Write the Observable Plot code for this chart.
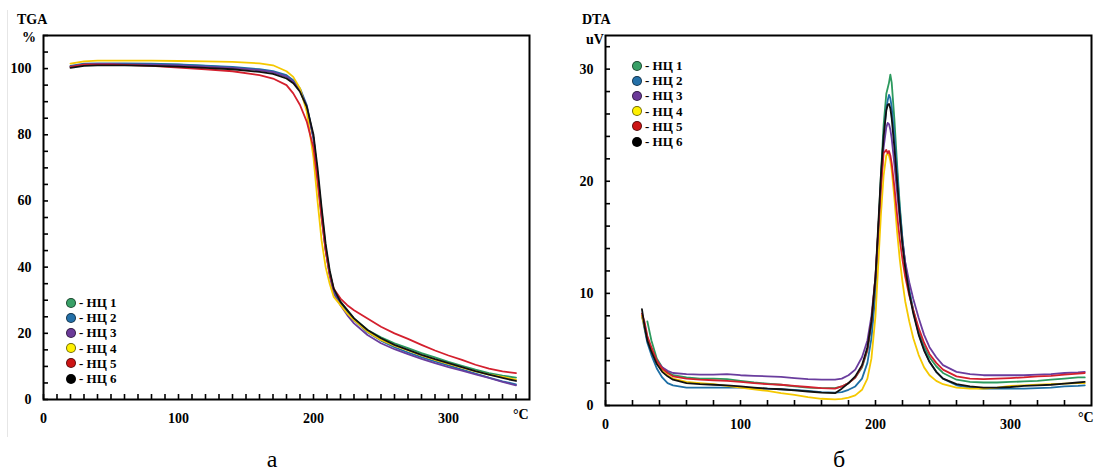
<!DOCTYPE html>
<html><head><meta charset="utf-8">
<script src="https://cdn.jsdelivr.net/npm/d3@7"></script>
<script src="https://cdn.jsdelivr.net/npm/@observablehq/plot@0.6"></script>
<style>
body{margin:0;background:#fff;}
#root{position:relative;width:1095px;height:475px;overflow:hidden;font-family:'Liberation Serif','Times New Roman',serif;color:#000;background:#fff;}
.abs{position:absolute;white-space:nowrap;}
.b{font-weight:bold;}
.leg{position:absolute;font-weight:bold;font-size:13px;line-height:15.2px;}
.leg .row{display:flex;align-items:center;height:15.2px;}
.leg .dot{width:8px;height:8px;border-radius:50%;border:1px solid rgba(0,0,0,0.55);margin-right:3px;box-sizing:content-box;}
</style></head><body><div id="root"></div>
<script>
// ---------- data ----------
const names = ["НЦ 1","НЦ 2","НЦ 3","НЦ 4","НЦ 5","НЦ 6"];

// TGA (mass, %) vs temperature (°C)
const tgaT = [20,30,40,50,60,80,100,120,140,160,170,180,185,190,195,200,203,206,209,212,215,220,225,230,240,250,260,270,280,290,300,310,320,330,340,350];
const tgaNC1 = [100.5,101.2,101.3,101.3,101.3,101.3,101.2,100.8,100.3,99.6,99.0,97.5,96.0,93.5,88.0,79.0,68.0,57.0,46.0,38.5,33.0,29.5,27.0,24.5,21.0,18.8,17.0,15.5,14.0,12.7,11.4,10.2,9.0,8.0,7.2,6.6];
const tgaNC2 = [100.8,101.5,101.6,101.6,101.6,101.5,101.3,100.9,100.5,99.8,99.2,98.0,96.5,94.0,89.0,79.0,67.0,55.0,45.0,37.5,32.5,29.0,26.5,24.0,20.3,17.8,15.8,14.2,12.8,11.5,10.3,9.0,7.8,6.6,5.5,4.6];
const tgaNC3 = [100.6,101.3,101.4,101.4,101.3,101.2,101.0,100.6,100.2,99.5,98.9,97.6,96.0,93.5,88.5,79.0,68.0,56.0,45.5,37.5,32.0,28.5,25.5,23.0,19.5,17.0,15.2,13.7,12.3,11.0,9.8,8.7,7.6,6.5,5.3,4.3];
const tgaNC4 = [101.5,102.2,102.4,102.4,102.4,102.4,102.3,102.2,102.0,101.6,101.0,99.2,97.5,94.0,87.0,73.0,60.0,48.0,40.0,35.0,31.0,28.5,26.0,24.0,20.5,18.0,16.3,14.8,13.3,12.0,10.8,9.6,8.5,7.5,6.8,6.0];
const tgaNC5 = [100.5,101.2,101.2,101.2,101.1,100.8,100.3,99.8,99.2,98.0,97.0,95.0,92.5,89.0,84.0,76.0,66.0,55.0,45.0,38.0,33.5,30.5,28.5,27.0,24.5,22.0,20.0,18.3,16.5,14.8,13.3,12.0,10.5,9.3,8.5,8.0];
const tgaNC6 = [100.2,100.8,101.0,101.0,101.0,100.8,100.6,100.2,99.8,99.0,98.4,97.0,95.6,93.0,88.5,80.0,70.0,58.0,47.0,39.0,33.5,29.5,27.0,24.5,21.0,18.5,16.5,15.0,13.5,12.2,11.0,9.8,8.6,7.5,6.5,5.6];

// DTA (uV) vs temperature (°C)
const dtaT = [27,29,31,34,38,42,46,50,60,70,80,90,100,110,120,130,140,150,160,170,175,180,185,190,194,197,200,202,204,206,208,209,210,211,212,214,216,218,220,222,225,228,232,236,240,245,250,260,270,280,290,300,310,320,330,340,350,355];
const dtaNC1 = [null,null,7.5,5.8,4.2,3.4,3.0,2.7,2.5,2.4,2.4,2.35,2.2,2.05,1.95,1.85,1.7,1.6,1.55,1.55,1.7,2.0,2.5,3.4,4.9,7.2,11.0,15.5,20.5,25.0,27.8,28.3,28.8,29.5,28.8,25.5,21.5,17.8,14.8,12.5,10.2,8.5,6.7,5.3,4.3,3.5,2.9,2.3,2.1,2.05,2.05,2.1,2.15,2.2,2.3,2.4,2.5,2.5];
const dtaNC2 = [8.0,6.8,5.6,4.5,3.3,2.5,2.0,1.8,1.6,1.6,1.6,1.6,1.6,1.55,1.5,1.45,1.4,1.3,1.2,1.15,1.2,1.4,1.7,2.4,3.8,6.0,10.0,15.0,20.0,24.0,26.5,27.2,27.7,27.4,26.6,24.0,20.8,17.5,14.8,12.7,10.3,8.4,6.4,5.0,3.9,3.0,2.4,1.8,1.6,1.5,1.5,1.5,1.5,1.55,1.6,1.7,1.75,1.8];
const dtaNC3 = [8.0,7.2,6.0,5.0,4.0,3.4,3.1,2.9,2.8,2.75,2.75,2.8,2.7,2.65,2.6,2.55,2.45,2.35,2.3,2.3,2.4,2.7,3.2,4.3,5.8,8.0,11.5,15.5,19.5,23.0,24.8,25.2,25.1,24.6,23.8,21.5,19.0,16.5,14.5,12.8,11.0,9.5,7.8,6.3,5.2,4.3,3.6,3.0,2.8,2.7,2.7,2.7,2.7,2.75,2.8,2.9,2.95,3.0];
const dtaNC4 = [8.0,7.0,6.0,5.0,3.9,3.1,2.7,2.4,2.1,2.0,1.9,1.75,1.6,1.45,1.3,1.1,0.95,0.75,0.6,0.55,0.6,0.7,0.9,1.4,2.4,4.2,8.0,12.5,17.0,20.5,22.3,22.5,22.3,21.8,21.0,18.5,15.5,13.0,11.0,9.3,7.5,6.0,4.5,3.4,2.7,2.2,1.9,1.6,1.5,1.5,1.6,1.75,1.8,1.85,1.9,1.95,2.0,2.0];
const dtaNC5 = [8.2,7.4,6.2,5.2,4.0,3.3,2.9,2.6,2.4,2.3,2.25,2.2,2.1,2.0,1.9,1.85,1.75,1.65,1.55,1.5,1.7,2.0,2.5,3.5,5.0,7.5,11.5,15.5,19.5,22.5,22.8,22.5,22.7,22.3,21.6,19.5,17.0,14.8,13.0,11.5,9.8,8.5,6.9,5.6,4.6,3.8,3.2,2.6,2.4,2.35,2.4,2.45,2.5,2.6,2.65,2.75,2.85,2.9];
const dtaNC6 = [8.6,7.0,5.8,4.8,3.7,3.0,2.6,2.3,2.0,1.9,1.85,1.8,1.7,1.6,1.5,1.45,1.35,1.25,1.15,1.1,1.5,2.0,2.6,3.6,5.2,7.5,11.5,16.0,20.5,24.0,26.3,26.8,26.9,26.5,25.6,23.0,20.0,17.0,14.3,12.3,10.0,8.2,6.3,4.9,3.9,3.0,2.4,1.9,1.7,1.6,1.6,1.65,1.75,1.8,1.85,1.95,2.05,2.1];

// tick labels
const xMajor = [0,100,200,300];
const tgaYMajor = [0,20,40,60,80,100];
const dtaYMajor = [0,10,20,30];

// ---------- styles ----------
const lineColors = ["#2c9a5e","#1e6fa6","#6a3d9e","#f5c800","#d4202e","#111111"];
const dotColors  = ["#39a067","#2470a8","#6b3a98","#fff000","#cc1414","#000000"];
const fontFamily = "'Liberation Serif','Times New Roman',serif";

function toRows(T, arrays) {
  const rows = [];
  arrays.forEach((arr, i) => arr.forEach((v, j) => rows.push({T: T[j], v, s: names[i]})));
  return rows;
}
const tgaRows = toRows(tgaT, [tgaNC1,tgaNC2,tgaNC3,tgaNC4,tgaNC5,tgaNC6]);
const dtaRows = toRows(dtaT, [dtaNC1,dtaNC2,dtaNC3,dtaNC4,dtaNC5,dtaNC6]);

function panel({rows, yDomain, yMajor, yMinor, xMinor, width, height, ml, mr, mt, mb, xPad}) {
  return Plot.plot({
    width, height, marginLeft: ml, marginRight: mr, marginTop: mt, marginBottom: mb,
    x: {domain: [0, 360]},
    y: {domain: yDomain},
    color: {domain: names, range: lineColors},
    style: {fontFamily, fontWeight: "bold", fontSize: "14px", color: "#000", background: "transparent"},
    marks: [
      Plot.line(rows, {x: "T", y: "v", z: "s", stroke: "s", strokeWidth: 1.8}),
      Plot.axisX({ticks: xMajor, tickSize: 0, tickPadding: xPad, label: null, tickFormat: d => String(d)}),
      Plot.axisX({ticks: xMinor, tickSize: 5, dy: -5, label: null, tickFormat: () => "", strokeWidth: 1.6}),
      Plot.axisY({ticks: yMajor, tickSize: 0, tickPadding: 12, label: null, tickFormat: d => String(d)}),
      Plot.axisY({ticks: yMinor, tickSize: 5, dx: 5, label: null, tickFormat: () => "", strokeWidth: 1.6}),
      Plot.frame({stroke: "#000", strokeWidth: 2})
    ]
  });
}

const root = document.getElementById("root");
function place(el, left, top) {
  const d = document.createElement("div");
  d.className = "abs";
  d.style.left = left + "px"; d.style.top = top + "px";
  d.appendChild(el);
  root.appendChild(d);
  return d;
}
function text(str, left, top, size, bold, extra) {
  const d = document.createElement("div");
  d.className = "abs" + (bold ? " b" : "");
  d.textContent = str;
  d.style.left = left + "px"; d.style.top = top + "px";
  d.style.fontSize = size + "px"; d.style.lineHeight = size + "px";
  if (extra) Object.assign(d.style, extra);
  root.appendChild(d);
  return d;
}
function legend(left, top) {
  const d = document.createElement("div");
  d.className = "leg";
  d.style.left = left + "px"; d.style.top = top + "px";
  names.forEach((n, i) => {
    const r = document.createElement("div"); r.className = "row";
    const dot = document.createElement("span"); dot.className = "dot"; dot.style.background = dotColors[i];
    const t = document.createElement("span"); t.textContent = "- " + n;
    r.appendChild(dot); r.appendChild(t); d.appendChild(r);
  });
  root.appendChild(d);
}

// faint border line at far left
const gl = document.createElement("div");
Object.assign(gl.style, {position: "absolute", left: "7px", top: "10px", width: "1px", height: "427px", background: "#e6e6e6"});
root.appendChild(gl);

const left = panel({rows: tgaRows, yDomain: [0, 110], yMajor: tgaYMajor, yMinor: d3.range(0, 111, 5), xMinor: d3.range(0, 351, 10),
  width: 545, height: 440, ml: 43, mr: 16, mt: 35, mb: 41, xPad: 14});
place(left, 0, 0);
const right = panel({rows: dtaRows, yDomain: [0, 33], yMajor: dtaYMajor, yMinor: d3.range(0, 33, 2), xMinor: d3.range(0, 341, 20),
  width: 547, height: 440, ml: 57, mr: 4, mt: 35, mb: 35, xPad: 14});
place(right, 548, 0);

text("TGA", 17, 13, 14, true);
text("%", 22, 31, 14, true);
text("°C", 513, 408, 14, true);
text("DTA", 582, 13, 14, true);
text("uV", 586, 33, 14, true);
text("°C", 1078, 411, 14, true);
legend(66, 295);
legend(632, 58);
text("а", 272, 447, 24, false, {transform: "translateX(-50%)"});
text("б", 839, 447, 24, false, {transform: "translateX(-50%)"});
</script></body></html>
